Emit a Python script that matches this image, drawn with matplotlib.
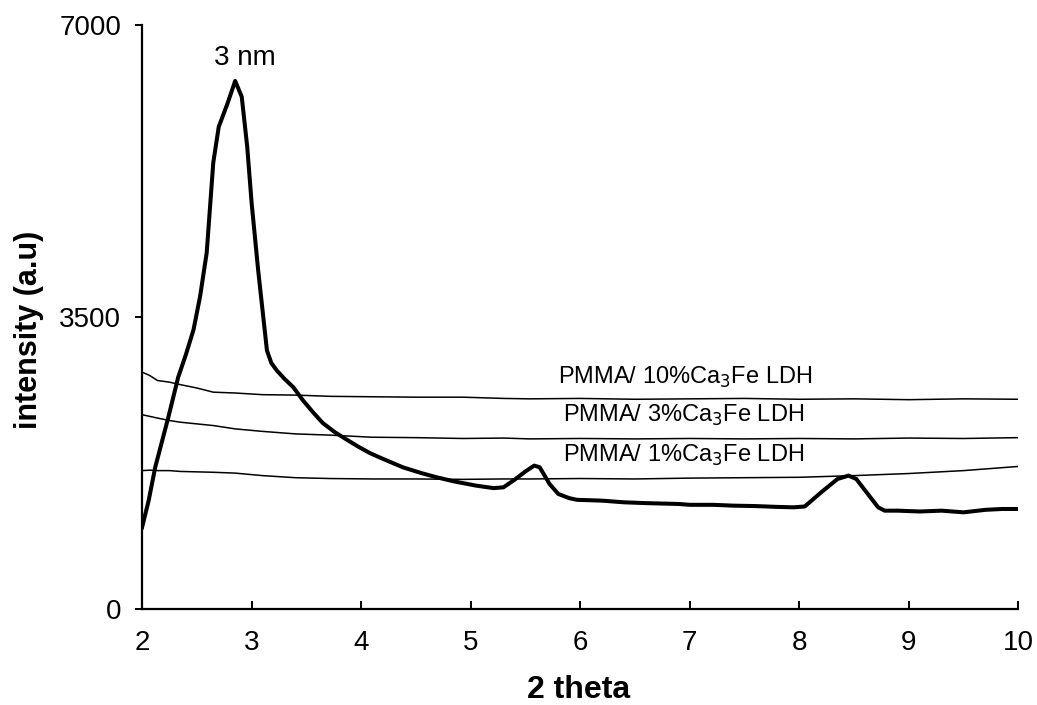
import matplotlib
matplotlib.use("Agg")
import matplotlib.pyplot as plt

plt.rcParams["font.family"] = ["Liberation Sans", "DejaVu Sans"]

# thick trace (main XRD pattern with the 3 nm reflection)
main_x = [2.00, 2.06, 2.12, 2.18, 2.24, 2.33, 2.40, 2.47, 2.53, 2.59, 2.65, 2.70, 2.78,
          2.85, 2.91, 2.96, 3.00, 3.06, 3.11, 3.14, 3.18, 3.23, 3.30, 3.38, 3.47, 3.56,
          3.65, 3.76, 3.87, 3.97, 4.08, 4.20, 4.38, 4.55, 4.69, 4.85, 4.93, 5.05, 5.21,
          5.30, 5.40, 5.50, 5.58, 5.63, 5.72, 5.80, 5.90, 5.97, 6.20, 6.40, 6.61, 6.90,
          7.00, 7.21, 7.40, 7.60, 7.80, 7.95, 8.05, 8.20, 8.35, 8.45, 8.52, 8.62, 8.72,
          8.78, 8.90, 9.10, 9.30, 9.50, 9.70, 9.85, 10.00]
main_y = [980, 1300, 1700, 2000, 2300, 2780, 3050, 3350, 3750, 4270, 5350, 5780, 6060,
          6330, 6140, 5540, 4870, 4060, 3460, 3100, 2950, 2860, 2760, 2660, 2500, 2360,
          2230, 2120, 2030, 1950, 1870, 1800, 1700, 1630, 1580, 1530, 1510, 1480, 1450,
          1460, 1550, 1650, 1720, 1700, 1500, 1380, 1330, 1310, 1300, 1280, 1270, 1260,
          1250, 1250, 1240, 1235, 1225, 1220, 1230, 1400, 1560, 1600, 1560, 1390, 1220,
          1180, 1180, 1170, 1180, 1160, 1190, 1200, 1200]

# thin traces (PMMA composites)
pm_x = [2.00, 2.07, 2.14, 2.25, 2.35, 2.50, 2.65, 2.85, 3.10, 3.40, 3.72, 4.10, 4.50,
        4.93, 5.30, 5.54, 6.00, 6.50, 7.00, 7.50, 8.00, 8.50, 9.00, 9.50, 10.00]
pm10_y = [2840, 2800, 2740, 2720, 2690, 2650, 2600, 2590, 2570, 2565, 2550, 2545, 2540,
          2540, 2525, 2520, 2525, 2515, 2520, 2525, 2515, 2520, 2510, 2520, 2515]
pm3_y = [2330, 2310, 2290, 2260, 2240, 2220, 2200, 2160, 2130, 2100, 2085, 2060, 2055,
         2045, 2050, 2040, 2045, 2040, 2045, 2040, 2045, 2040, 2050, 2045, 2055]
pm1_y = [1660, 1665, 1660, 1660, 1650, 1645, 1640, 1630, 1600, 1575, 1565, 1560, 1560,
         1555, 1560, 1560, 1565, 1560, 1570, 1575, 1580, 1600, 1625, 1660, 1710]

labels = ["PMMA/ 10%Ca$_3$Fe LDH", "PMMA/ 3%Ca$_3$Fe LDH", "PMMA/ 1%Ca$_3$Fe LDH"]
label_x = [5.80, 5.84, 5.84]
label_y = [2780, 2320, 1840]

fig = plt.figure(figsize=(10.37, 7.05), dpi=100)
ax = fig.add_axes([0.137, 0.136, 0.845, 0.8285])

for ys in (pm10_y, pm3_y, pm1_y):
    ax.plot(pm_x, ys, color="black", lw=1.1)
ax.plot(main_x, main_y, color="black", lw=2.9, solid_joinstyle="round")

for t, lx, ly in zip(labels, label_x, label_y):
    ax.text(lx, ly, t, fontsize=17, ha="left", va="center")
ax.text(2.94, 6600, "3 nm", fontsize=20, ha="center", va="center")

ax.set_xlim(2, 10)
ax.set_ylim(0, 7000)
ax.set_xticks(range(2, 11))
ax.set_yticks([0, 3500, 7000])
for s in ("top", "right"):
    ax.spines[s].set_visible(False)
for s in ("left", "bottom"):
    ax.spines[s].set_linewidth(1.6)
ax.tick_params(axis="x", direction="in", length=6, width=1.4, labelsize=20, pad=15)
ax.tick_params(axis="y", direction="out", length=5, width=1.4, labelsize=20, pad=10)

ax.set_xlabel("2 theta", fontsize=23, fontweight="bold")
ax.set_ylabel("intensity (a.u)", fontsize=22, fontweight="bold")
ax.xaxis.set_label_coords(0.498, -0.112)
ax.yaxis.set_label_coords(-0.112, 0.478)

fig.savefig("out.png", dpi=100)
